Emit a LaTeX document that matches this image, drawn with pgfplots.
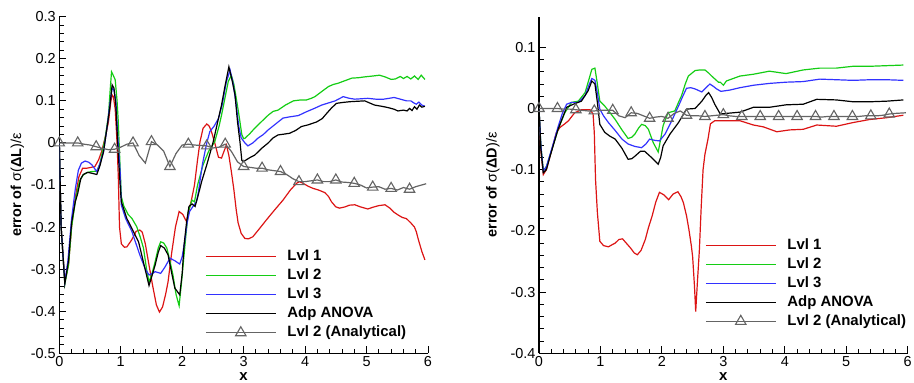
\documentclass[border=0pt]{standalone}
\usepackage{fontspec}
\setmainfont{Liberation Sans}
\usepackage{pgfplots}
\pgfplotsset{compat=1.18}

\definecolor{cRed}{RGB}{220,20,20}
\definecolor{cGreen}{RGB}{20,205,20}
\definecolor{cBlue}{RGB}{50,50,255}
\definecolor{cGray}{RGB}{100,100,100}

\pgfplotsset{
  myaxis/.style={
    scale only axis, width=368.7bp, height=336.6bp,
    axis x line*=bottom, axis y line*=left,
    axis line style={line width=1.4bp},
    tick align=inside, tick style={line width=0.9bp, black},
    major tick length=7bp, minor tick length=4.5bp,
    xmin=0, xmax=6, xtick={0,1,2,3,4,5,6}, minor x tick num=4, minor y tick num=4,
    ticklabel style={font=\fontsize{14.5}{17}\selectfont},
    /pgf/number format/assume math mode=true,
    yticklabel style={/pgf/number format/fixed, /pgf/number format/precision=1},
    xlabel={\textbf{x}},
    xlabel style={at={(axis description cs:0.5,0)}, anchor=center, yshift=-23bp, font=\fontsize{15}{17}\selectfont},
    ylabel style={anchor=center, font=\fontsize{14.5}{17}\selectfont},
    legend cell align=left,
    legend style={draw=none, fill=none, inner sep=0pt, column sep=10bp, row sep=2.5bp,
      font=\bfseries\fontsize{15}{17}\selectfont,
      nodes={inner sep=1bp, text height=11bp, text depth=3.5bp}},
    legend image code/.code={\draw[##1, line width=1.2bp] (0bp,0bp) -- (70bp,0bp);},
  },
  cline/.style={line width=1.2bp, no markers},
  anal/.style={line width=1.2bp, cGray, mark=triangle, mark size=6bp, mark repeat=3,
    mark options={line width=1.1bp, solid, fill=none},
    legend image code/.code={\draw[##1, line width=1.2bp, mark repeat=2, mark phase=2] plot coordinates {(0bp,0bp) (35bp,0bp) (70bp,0bp)};}},
}

\begin{document}
\begin{tikzpicture}
\path[use as bounding box] (0bp,0bp) rectangle (914bp,383bp);

% ---------------- left: sigma(Delta L)
\begin{axis}[myaxis, at={(59.3bp,29.7bp)}, anchor=south west,
  ymin=-0.5, ymax=0.3, ytick={-0.5,-0.4,-0.3,-0.2,-0.1,0,0.1,0.2,0.3},
  ylabel={\textbf{error of }σ(\textbf{ΔL})/ε},
  ylabel style={at={(axis description cs:-0.1139,0.5)}},
  legend style={at={(axis cs:2.371,-0.2504)}, anchor=north west}]
\addplot[cline, cRed] coordinates {
(0,0) (0.03,-0.2) (0.09,-0.33) (0.15,-0.29) (0.2,-0.2) (0.26,-0.13) (0.32,-0.08) (0.38,-0.06)
(0.45,-0.06) (0.52,-0.058) (0.58,-0.056) (0.64,-0.04) (0.69,-0.02) (0.75,0.015) (0.80,0.05)
(0.84,0.1) (0.86,0.114) (0.88,0.11) (0.91,0.08) (0.94,0.0) (0.96,-0.08) (0.98,-0.2) (1.01,-0.24)
(1.06,-0.248) (1.10,-0.247) (1.18,-0.23) (1.25,-0.21) (1.31,-0.207) (1.35,-0.212) (1.40,-0.24)
(1.45,-0.282) (1.52,-0.34) (1.58,-0.385) (1.63,-0.402) (1.68,-0.39) (1.73,-0.36) (1.77,-0.33)
(1.83,-0.26) (1.89,-0.2) (1.95,-0.163) (2.01,-0.17) (2.07,-0.187) (2.11,-0.16) (2.15,-0.136)
(2.2,-0.1) (2.25,-0.04) (2.29,0.003) (2.34,0.035) (2.40,0.045) (2.44,0.04) (2.48,0.025)
(2.53,0.0) (2.59,-0.034) (2.64,-0.036) (2.68,-0.02) (2.72,-0.005) (2.76,-0.03) (2.80,-0.068)
(2.84,-0.11) (2.88,-0.16) (2.91,-0.19) (2.96,-0.215) (3.02,-0.227) (3.08,-0.228) (3.15,-0.223)
(3.25,-0.205) (3.37,-0.183) (3.5,-0.16) (3.64,-0.136) (3.76,-0.112) (3.86,-0.096) (3.91,-0.092)
(3.98,-0.097) (4.05,-0.103) (4.13,-0.108) (4.22,-0.112) (4.32,-0.118) (4.38,-0.127) (4.43,-0.14)
(4.5,-0.152) (4.56,-0.155) (4.65,-0.152) (4.72,-0.148) (4.81,-0.147) (4.9,-0.152) (5.02,-0.157)
(5.1,-0.153) (5.2,-0.149) (5.3,-0.147) (5.38,-0.155) (5.45,-0.165) (5.51,-0.171) (5.58,-0.177)
(5.65,-0.18) (5.72,-0.19) (5.78,-0.2) (5.81,-0.211) (5.84,-0.228) (5.87,-0.243) (5.9,-0.258) (5.95,-0.278)
};
\addlegendentry{Lvl 1}
\addplot[cline, cGreen] coordinates {
(0,0) (0.03,-0.2) (0.09,-0.335) (0.15,-0.29) (0.2,-0.2) (0.27,-0.13) (0.33,-0.09) (0.39,-0.076)
(0.46,-0.07) (0.53,-0.068) (0.61,-0.067) (0.66,-0.05) (0.69,-0.029) (0.75,0.015) (0.80,0.066)
(0.83,0.13) (0.85,0.169) (0.88,0.16) (0.91,0.15) (0.94,0.1) (0.96,0.05) (0.99,-0.06) (1.01,-0.128)
(1.05,-0.15) (1.12,-0.17) (1.18,-0.179) (1.26,-0.199) (1.32,-0.225) (1.37,-0.25) (1.42,-0.3)
(1.46,-0.331) (1.51,-0.31) (1.56,-0.282) (1.61,-0.25) (1.65,-0.235) (1.70,-0.238) (1.75,-0.25)
(1.80,-0.28) (1.85,-0.314) (1.90,-0.36) (1.95,-0.387) (1.99,-0.33) (2.02,-0.282) (2.06,-0.22)
(2.10,-0.163) (2.16,-0.136) (2.2,-0.14) (2.25,-0.1) (2.34,-0.052) (2.43,-0.02) (2.53,0.003)
(2.6,0.04) (2.64,0.066) (2.7,0.11) (2.75,0.146) (2.80,0.161) (2.84,0.14) (2.88,0.106) (2.92,0.07)
(2.97,0.02) (3.0,0.01) (3.02,0.011) (3.1,0.022) (3.18,0.035) (3.3,0.052) (3.40,0.066) (3.48,0.075)
(3.56,0.078) (3.68,0.09) (3.81,0.1) (3.92,0.102) (4.02,0.102) (4.1,0.106) (4.16,0.11) (4.27,0.122)
(4.38,0.134) (4.46,0.139) (4.54,0.142) (4.65,0.148) (4.76,0.154) (4.87,0.155) (4.97,0.157)
(5.1,0.159) (5.21,0.161) (5.3,0.157) (5.4,0.151) (5.47,0.152) (5.55,0.158) (5.60,0.153)
(5.66,0.158) (5.72,0.152) (5.78,0.159) (5.84,0.151) (5.89,0.161) (5.95,0.151)
};
\addlegendentry{Lvl 2}
\addplot[cline, cBlue] coordinates {
(0,0) (0.03,-0.2) (0.09,-0.33) (0.14,-0.28) (0.2,-0.18) (0.26,-0.11) (0.31,-0.065) (0.36,-0.048)
(0.42,-0.043) (0.48,-0.046) (0.53,-0.052) (0.61,-0.068) (0.66,-0.05) (0.72,-0.021) (0.78,0.04)
(0.82,0.09) (0.86,0.13) (0.89,0.125) (0.92,0.1) (0.95,0.02) (0.99,-0.068) (1.01,-0.148)
(1.08,-0.18) (1.18,-0.21) (1.31,-0.266) (1.40,-0.3) (1.46,-0.314) (1.52,-0.31) (1.56,-0.306)
(1.65,-0.31) (1.72,-0.295) (1.80,-0.274) (1.88,-0.28) (1.96,-0.288) (2.0,-0.27) (2.04,-0.235)
(2.08,-0.19) (2.12,-0.163) (2.18,-0.15) (2.23,-0.14) (2.26,-0.12) (2.33,-0.05) (2.40,0.0)
(2.45,0.027) (2.52,0.04) (2.59,0.058) (2.65,0.09) (2.72,0.146) (2.78,0.173) (2.83,0.14)
(2.88,0.09) (2.92,0.04) (2.96,0.012) (3.02,0.0) (3.07,-0.007) (3.15,0.0) (3.23,0.011) (3.32,0.02)
(3.40,0.031) (3.52,0.045) (3.64,0.059) (3.75,0.062) (3.89,0.065) (4.02,0.074) (4.15,0.082)
(4.27,0.09) (4.38,0.095) (4.49,0.1) (4.62,0.11) (4.72,0.106) (4.81,0.104) (5.02,0.106)
(5.15,0.104) (5.28,0.104) (5.45,0.108) (5.55,0.104) (5.65,0.1) (5.72,0.1) (5.77,0.095)
(5.81,0.092) (5.85,0.097) (5.90,0.09) (5.95,0.087)
};
\addlegendentry{Lvl 3}
\addplot[cline, black] coordinates {
(0,0) (0.03,-0.2) (0.09,-0.335) (0.15,-0.28) (0.2,-0.19) (0.26,-0.14) (0.3,-0.12) (0.35,-0.085)
(0.39,-0.075) (0.46,-0.07) (0.53,-0.072) (0.61,-0.075) (0.66,-0.055) (0.72,-0.021) (0.78,0.04)
(0.82,0.082) (0.86,0.138) (0.89,0.13) (0.92,0.09) (0.95,0.0) (0.99,-0.1) (1.01,-0.14) (1.1,-0.18)
(1.18,-0.203) (1.29,-0.235) (1.38,-0.29) (1.46,-0.339) (1.51,-0.315) (1.56,-0.29) (1.61,-0.26)
(1.65,-0.244) (1.71,-0.25) (1.77,-0.266) (1.83,-0.31) (1.88,-0.345) (1.96,-0.361) (2.0,-0.31)
(2.03,-0.243) (2.07,-0.19) (2.11,-0.151) (2.16,-0.145) (2.21,-0.151) (2.25,-0.13) (2.32,-0.09)
(2.40,-0.052) (2.5,0.0) (2.59,0.058) (2.64,0.09) (2.69,0.13) (2.76,0.181) (2.81,0.15)
(2.86,0.114) (2.9,0.05) (2.94,0.003) (2.97,-0.041) (2.99,-0.045) (3.1,-0.035) (3.18,-0.029)
(3.3,-0.012) (3.40,0.0) (3.48,0.012) (3.56,0.019) (3.66,0.021) (3.75,0.023) (3.85,0.03)
(3.94,0.039) (4.05,0.043) (4.19,0.05) (4.28,0.058) (4.35,0.07) (4.43,0.083) (4.51,0.094)
(4.6,0.096) (4.73,0.098) (4.85,0.099) (4.97,0.1) (5.05,0.095) (5.13,0.09) (5.25,0.087)
(5.35,0.084) (5.45,0.08) (5.51,0.076) (5.6,0.078) (5.66,0.076) (5.7,0.082) (5.74,0.077)
(5.78,0.086) (5.82,0.08) (5.86,0.09) (5.9,0.085) (5.95,0.087)
};
\addlegendentry{Adp ANOVA}
\addplot[anal] coordinates {
(0,0) (0.1,0) (0.2,0) (0.3,0) (0.4,-0.003) (0.5,-0.005) (0.6,-0.009) (0.7,-0.013) (0.8,-0.016)
(0.9,-0.015) (1.0,-0.01) (1.1,-0.003) (1.2,0.0) (1.3,-0.03) (1.4,-0.048) (1.5,0.003) (1.6,-0.005)
(1.7,-0.02) (1.8,-0.056) (1.9,-0.025) (2.0,-0.005) (2.1,-0.003) (2.2,-0.005) (2.3,-0.006)
(2.4,-0.007) (2.5,-0.012) (2.6,-0.01) (2.7,-0.003) (2.8,-0.02) (2.9,-0.045) (3.0,-0.056)
(3.1,-0.058) (3.2,-0.06) (3.3,-0.06) (3.4,-0.064) (3.5,-0.066) (3.6,-0.068) (3.7,-0.075)
(3.8,-0.085) (3.9,-0.092) (4.0,-0.092) (4.1,-0.09) (4.2,-0.088) (4.3,-0.092) (4.4,-0.092)
(4.5,-0.088) (4.6,-0.093) (4.7,-0.094) (4.8,-0.096) (4.9,-0.1) (5.0,-0.107) (5.1,-0.105)
(5.2,-0.104) (5.3,-0.11) (5.4,-0.108) (5.5,-0.112) (5.6,-0.106) (5.7,-0.11) (5.8,-0.104) (5.97,-0.097)
};
\addlegendentry{Lvl 2 (Analytical)}
\end{axis}

% ---------------- right: sigma(Delta D)
\begin{axis}[myaxis, at={(539bp,29.7bp)}, anchor=south west,
  ymin=-0.4, ymax=0.15, ytick={-0.4,-0.3,-0.2,-0.1,0,0.1},
  ylabel={\textbf{error of }σ(\textbf{ΔD})/ε},
  ylabel style={at={(axis description cs:-0.1248,0.5)}},
  legend style={at={(axis cs:2.701,-0.2098)}, anchor=north west}]
\addplot[cline, cRed] coordinates {
(0,0) (0.03,-0.07) (0.07,-0.108) (0.12,-0.1) (0.21,-0.067) (0.28,-0.04) (0.34,-0.031) (0.42,-0.025)
(0.48,-0.02) (0.58,-0.007) (0.69,-0.002) (0.83,-0.002) (0.88,-0.009) (0.9,-0.04) (0.92,-0.116)
(0.95,-0.17) (0.99,-0.217) (1.05,-0.224) (1.13,-0.226) (1.2,-0.222) (1.24,-0.22) (1.30,-0.214)
(1.36,-0.213) (1.42,-0.22) (1.49,-0.228) (1.55,-0.236) (1.60,-0.239) (1.66,-0.232) (1.73,-0.214)
(1.78,-0.195) (1.84,-0.176) (1.90,-0.153) (1.96,-0.137) (2.03,-0.141) (2.11,-0.149) (2.18,-0.14)
(2.26,-0.136) (2.31,-0.144) (2.35,-0.154) (2.40,-0.175) (2.44,-0.198) (2.48,-0.225) (2.50,-0.242)
(2.53,-0.29) (2.55,-0.332) (2.58,-0.28) (2.61,-0.231) (2.64,-0.16) (2.67,-0.1) (2.70,-0.075)
(2.75,-0.05) (2.79,-0.025) (2.86,-0.02) (3.03,-0.02) (3.27,-0.02) (3.49,-0.027) (3.65,-0.03)
(3.87,-0.038) (4.08,-0.035) (4.30,-0.034) (4.52,-0.027) (4.84,-0.029) (5.11,-0.023) (5.38,-0.018)
(5.66,-0.015) (5.93,-0.011)
};
\addlegendentry{Lvl 1}
\addplot[cline, cGreen] coordinates {
(0,0) (0.03,-0.06) (0.07,-0.102) (0.12,-0.095) (0.21,-0.067) (0.31,-0.034) (0.42,-0.007) (0.53,0.01)
(0.64,0.012) (0.75,0.026) (0.82,0.05) (0.86,0.064) (0.91,0.066) (0.95,0.04) (0.99,0.012)
(1.07,0.004) (1.15,-0.006) (1.24,-0.018) (1.35,-0.035) (1.45,-0.049) (1.51,-0.047) (1.56,-0.042)
(1.62,-0.032) (1.67,-0.026) (1.73,-0.028) (1.78,-0.034) (1.86,-0.056) (1.94,-0.071) (1.98,-0.05)
(2.02,-0.028) (2.10,-0.007) (2.21,-0.004) (2.27,0.01) (2.32,0.021) (2.38,0.04) (2.43,0.053)
(2.54,0.062) (2.62,0.063) (2.70,0.063) (2.76,0.058) (2.81,0.053) (2.92,0.043) (2.95,0.043)
(3.0,0.038) (3.05,0.045) (3.27,0.053) (3.49,0.056) (3.75,0.061) (4.02,0.057) (4.30,0.063)
(4.57,0.066) (4.84,0.066) (5.11,0.069) (5.39,0.069) (5.66,0.07) (5.93,0.071)
};
\addlegendentry{Lvl 2}
\addplot[cline, cBlue] coordinates {
(0,0) (0.03,-0.06) (0.07,-0.102) (0.12,-0.095) (0.21,-0.065) (0.31,-0.03) (0.38,-0.008) (0.45,0.007)
(0.53,0.01) (0.64,0.01) (0.75,0.021) (0.82,0.04) (0.86,0.049) (0.91,0.046) (0.95,0.025)
(0.99,-0.001) (1.05,-0.012) (1.13,-0.023) (1.24,-0.036) (1.35,-0.05) (1.45,-0.058) (1.56,-0.062)
(1.67,-0.064) (1.74,-0.058) (1.80,-0.05) (1.88,-0.052) (1.96,-0.053) (2.05,-0.042) (2.16,-0.02)
(2.27,0.004) (2.34,0.02) (2.40,0.033) (2.47,0.034) (2.54,0.032) (2.65,0.027) (2.72,0.034)
(2.78,0.04) (2.84,0.036) (2.89,0.032) (2.96,0.028) (3.03,0.029) (3.1,0.03) (3.27,0.034)
(3.49,0.038) (3.75,0.041) (4.02,0.043) (4.30,0.044) (4.57,0.048) (4.84,0.047) (5.11,0.046)
(5.39,0.047) (5.66,0.047) (5.93,0.046)
};
\addlegendentry{Lvl 3}
\addplot[cline, black] coordinates {
(0,0) (0.03,-0.065) (0.07,-0.105) (0.12,-0.1) (0.18,-0.078) (0.31,-0.034) (0.45,0.002) (0.56,0.007)
(0.69,0.012) (0.80,0.029) (0.86,0.045) (0.91,0.04) (0.95,0.01) (0.99,-0.026) (1.07,-0.039)
(1.15,-0.045) (1.24,-0.05) (1.35,-0.065) (1.45,-0.083) (1.51,-0.082) (1.56,-0.078) (1.65,-0.07)
(1.72,-0.07) (1.83,-0.08) (1.94,-0.091) (1.98,-0.08) (2.02,-0.061) (2.13,-0.042) (2.27,-0.023)
(2.40,-0.001) (2.54,0.0) (2.65,0.012) (2.72,0.022) (2.76,0.026) (2.81,0.018) (2.86,0.007)
(2.95,-0.009) (3.05,-0.008) (3.27,-0.006) (3.49,0.002) (3.75,0.002) (4.02,0.006) (4.30,0.007)
(4.52,0.015) (4.84,0.014) (5.11,0.011) (5.39,0.011) (5.66,0.012) (5.93,0.014)
};
\addlegendentry{Adp ANOVA}
\addplot[anal] coordinates {
(0,0) (0.1,0) (0.2,0) (0.3,0) (0.4,-0.001) (0.5,-0.001) (0.6,-0.002) (0.7,-0.003) (0.8,-0.004)
(0.9,-0.004) (1.0,-0.003) (1.1,-0.003) (1.2,-0.003) (1.3,-0.012) (1.4,-0.015) (1.5,-0.007)
(1.6,-0.008) (1.7,-0.012) (1.8,-0.016) (1.9,-0.014) (2.0,-0.013) (2.1,-0.016) (2.2,-0.008)
(2.3,-0.004) (2.4,-0.011) (2.5,-0.012) (2.6,-0.012) (2.7,-0.013) (2.8,-0.012) (2.9,-0.011)
(3.0,-0.01) (3.1,-0.012) (3.2,-0.013) (3.3,-0.013) (3.4,-0.013) (3.5,-0.013) (3.6,-0.013)
(3.7,-0.013) (3.8,-0.013) (3.9,-0.013) (4.0,-0.013) (4.1,-0.013) (4.2,-0.013) (4.3,-0.013)
(4.4,-0.013) (4.5,-0.013) (4.6,-0.014) (4.7,-0.013) (4.8,-0.013) (4.9,-0.013) (5.0,-0.013)
(5.1,-0.013) (5.2,-0.013) (5.3,-0.012) (5.4,-0.012) (5.5,-0.012) (5.6,-0.011) (5.7,-0.009)
(5.8,-0.008) (5.97,-0.007)
};
\addlegendentry{Lvl 2 (Analytical)}
\end{axis}
\end{tikzpicture}
\end{document}
